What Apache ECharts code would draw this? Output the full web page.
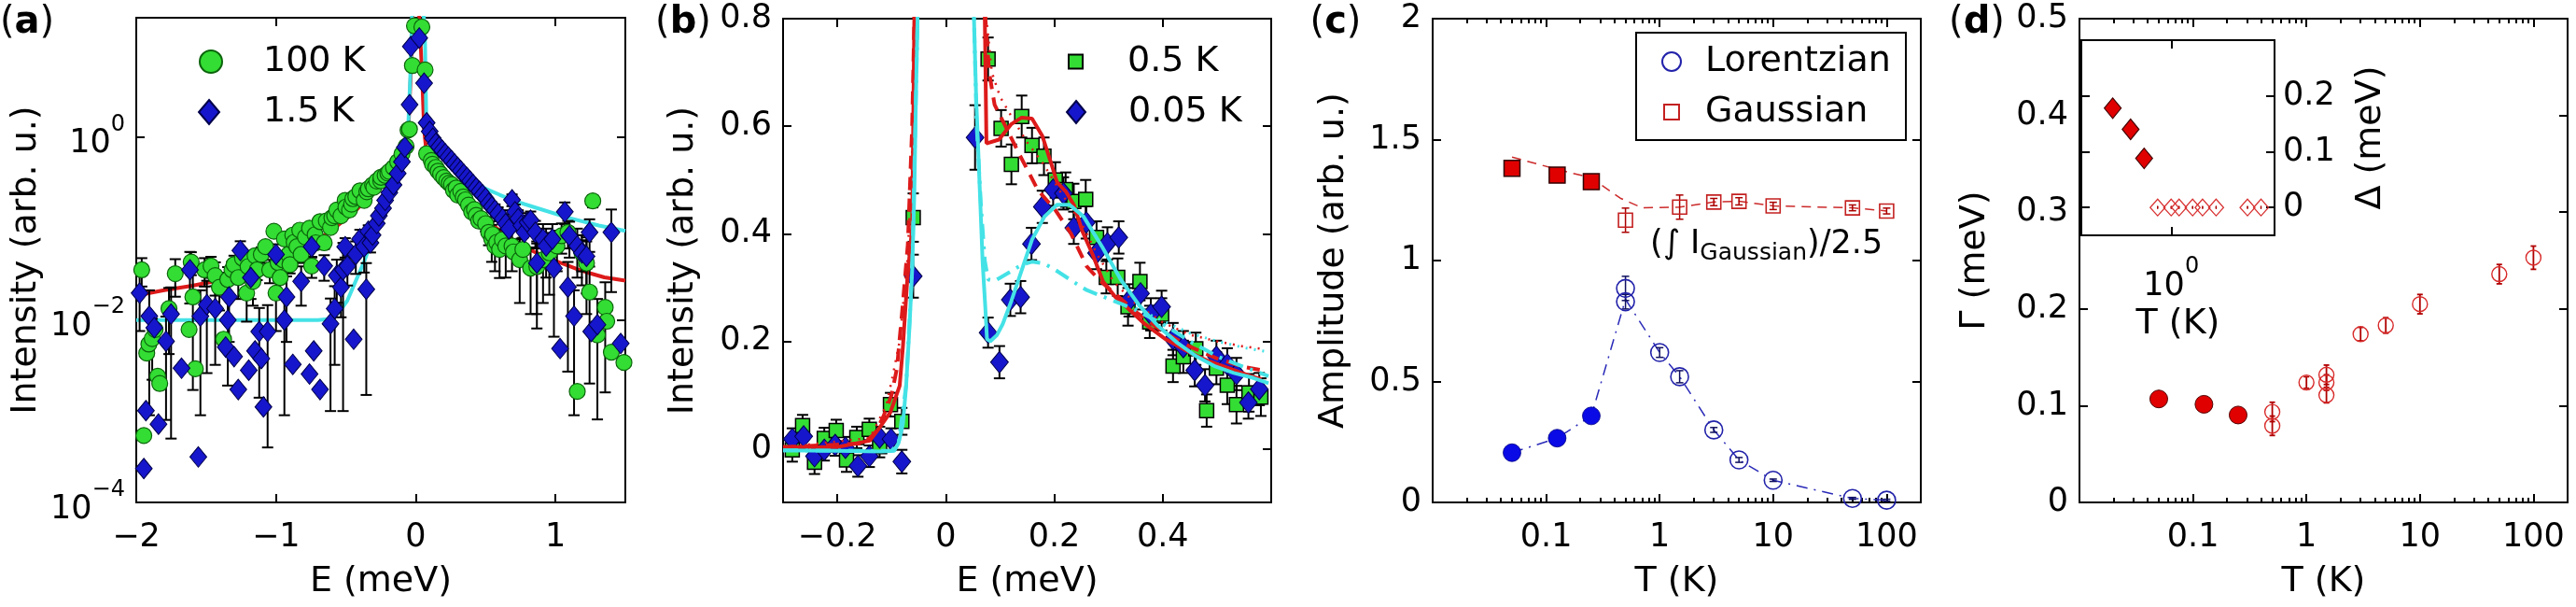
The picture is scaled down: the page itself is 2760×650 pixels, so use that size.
<!DOCTYPE html>
<html><head><meta charset="utf-8">
<script src="https://cdn.jsdelivr.net/npm/echarts@6/dist/echarts.min.js"></script>
<style>html,body{margin:0;padding:0;background:#fff}#c{width:2760px;height:650px}</style>
</head><body><div id="c"></div>
<script>
// ================= DATA =================
// ---- Panel (a): intensity (log) vs E ----
const a_xTicks = [-2, -1, 0, 1];
const a_yTicks = [1e-4, 1e-2, 1];
const a100_E = [-1.961,-1.946,-1.925,-1.910,-1.886,-1.865,-1.847,-1.832,-1.766,-1.721,-1.622,-1.607,-1.595,-1.577,-1.511,-1.465,-1.435,-1.405,-1.375,-1.345,-1.315,-1.300,-1.270,-1.240,-1.210,-1.200,-1.165,-1.150,-1.135,-1.105,-1.075,-1.045,-1.015,-1.000,-0.985,-0.970,-0.950,-0.940,-0.910,-0.900,-0.880,-0.870,-0.850,-0.830,-0.820,-0.790,-0.760,-0.745,-0.720,-0.715,-0.685,-0.655,-0.640,-0.610,-0.600,-0.580,-0.565,-0.535,-0.505,-0.500,-0.474,-0.459,-0.450,-0.429,-0.399,-0.369,-0.350,-0.339,-0.309,-0.300,-0.279,-0.250,-0.249,-0.219,-0.200,-0.189,-0.159,-0.129,-0.099,-0.069,-0.055,-0.045,-0.024,-0.009,
 0.044,0.067,0.078,0.111,0.120,0.144,0.160,0.178,0.200,0.222,0.240,0.256,0.270,0.289,0.300,0.322,0.340,0.356,0.378,0.400,0.420,0.433,0.450,0.467,0.500,0.522,0.544,0.550,0.567,0.580,0.600,0.620,0.644,0.689,0.700,0.744,0.767,0.822,0.867,0.911,0.956,1.011,1.044,1.089,1.156,1.189,1.222,1.244,1.267,1.300,1.356,1.367,1.400,1.490];
const a100_I = [0.035,0.00054,0.0043,0.0054,0.0062,0.0078,0.0024,0.0020,0.0132,0.0318,0.0078,0.0426,0.0177,0.0029,0.035,0.0386,0.0303,0.0226,0.0061,0.0275,0.035,0.040,0.0288,0.0469,0.0195,0.038,0.0262,0.050,0.035,0.0516,0.0627,0.035,0.0925,0.0195,0.042,0.0288,0.045,0.0762,0.0516,0.040,0.084,0.070,0.0627,0.095,0.0516,0.080,0.100,0.0386,0.085,0.0692,0.118,0.0692,0.120,0.1018,0.130,0.1365,0.1577,0.1365,0.2014,0.170,0.158,0.1828,0.210,0.2218,0.2564,0.2014,0.250,0.2692,0.2972,0.280,0.3273,0.330,0.3606,0.3784,0.400,0.4168,0.4592,0.532,0.645,0.785,1.18,1.21,6.0,16.3,
 15.8,5.38,0.653,0.549,0.50,0.462,0.42,0.389,0.357,0.327,0.31,0.300,0.26,0.275,0.23,0.253,0.22,0.204,0.179,0.151,0.16,0.138,0.12,0.127,0.112,0.090,0.0758,0.085,0.0638,0.070,0.0585,0.075,0.0638,0.0638,0.055,0.0452,0.0585,0.0365,0.038,0.0452,0.0537,0.0638,0.0826,0.090,0.00164,0.0537,0.0415,0.020,0.1985,0.0068,0.0136,0.0096,0.0044,0.0034];
const a100_dI = [0.012,0,0,0,0.004,0,0,0,0.009,0.014,0,0.012,0.016,0,0.012,0.010,0.012,0.010,0,0.010,0.008,0.010,0.012,0.010,0.010,0.008,0.012,0,0.008,0.010,0,0.010,0,0.012,0,0.008,0,0,0,0.008,0,0,0,0,0.010,0,0,0.010,0,0,0,0.010,0,0,0,0,0,0,0,0,0,0,0,0,0,0,0,0,0,0,0,0,0,0,0,0,0,0,0,0,0,0,0,0,
 0,0,0,0,0,0,0,0,0,0,0,0,0,0,0,0,0,0,0,0,0,0,0,0,0.02,0.025,0.033,0,0.03,0,0.03,0,0.035,0.03,0,0.03,0.02,0.025,0.03,0.03,0.035,0.03,0.03,0.03,0,0.02,0.03,0.018,0.03,0,0.012,0,0,0];
const a15_E = [-1.976,-1.946,-1.931,-1.907,-1.871,-1.841,-1.787,-1.751,-1.676,-1.616,-1.556,-1.541,-1.495,-1.435,-1.360,-1.345,-1.336,-1.300,-1.270,-1.255,-1.195,-1.180,-1.150,-1.120,-1.105,-1.090,-1.060,-1.000,-0.940,-0.925,-0.880,-0.820,-0.760,-0.745,-0.730,-0.685,-0.655,-0.610,-0.580,-0.565,-0.535,-0.520,-0.505,-0.489,-0.444,-0.429,-0.399,-0.369,-0.354,-0.339,-0.324,-0.309,-0.279,-0.264,-0.234,-0.219,-0.189,-0.159,-0.129,-0.099,-0.078,-0.044,-0.035,
 0.025,0.060,0.078,0.100,0.122,0.144,0.167,0.189,0.211,0.233,0.256,0.278,0.300,0.322,0.344,0.367,0.389,0.411,0.433,0.456,0.478,0.500,0.522,0.544,0.567,0.589,0.622,0.644,0.667,0.689,0.711,0.733,0.756,0.778,0.800,0.822,0.856,0.867,0.911,0.933,0.978,0.989,1.033,1.067,1.089,1.100,1.133,1.156,1.189,1.222,1.244,1.256,1.300,1.400,1.467];
const a15_I = [0.0195,0.000235,0.00101,0.0109,0.00815,0.00072,0.0058,0.0115,0.00294,0.035,0.000315,0.0109,0.0146,0.0132,0.00501,0.0099,0.0177,0.00394,0.00172,0.0569,0.0028,0.0288,0.00455,0.0074,0.00375,0.00111,0.0074,0.0516,0.0099,0.0177,0.00324,0.0262,0.00254,0.0627,0.00455,0.00172,0.0386,0.0090,0.0132,0.0303,0.0226,0.035,0.0627,0.0386,0.0061,0.0516,0.0762,0.0627,0.0215,0.0925,0.0692,0.084,0.1125,0.1365,0.1656,0.2014,0.2445,0.2972,0.397,0.532,0.767,2.24,9.7,
 12.0,3.85,1.42,1.14,0.962,0.845,0.775,0.711,0.653,0.599,0.549,0.504,0.462,0.424,0.389,0.357,0.327,0.300,0.275,0.253,0.232,0.213,0.187,0.172,0.157,0.144,0.127,0.112,0.098,0.204,0.151,0.127,0.107,0.090,0.116,0.122,0.090,0.0415,0.0758,0.0638,0.0758,0.0365,0.00482,0.151,0.0227,0.0826,0.0109,0.0638,0.0537,0.0493,0.090,0.00741,0.00881,0.090,0.00548];
const a15_dI = [0.012,0,0,0.01,0,0,0.005,0.011,0,0.02,0,0.01,0.012,0.01,0,0.008,0.012,0,0,0.015,0,0.012,0,0.006,0,0,0.007,0.015,0.009,0.012,0,0.012,0,0.015,0,0,0.012,0.008,0.01,0.015,0.012,0.034,0.015,0.015,0,0.02,0.02,0.03,0.02,0.015,0.015,0,0,0,0,0,0,0,0,0,0,0,0,
 0,0,0,0,0,0,0,0,0,0,0,0,0,0,0,0,0,0,0,0,0,0.02,0.02,0.02,0.025,0.025,0.03,0.03,0.03,0.03,0.03,0.03,0.03,0.03,0.03,0.03,0.03,0.03,0.035,0.035,0.035,0.03,0,0.04,0.02,0.035,0.01,0.035,0.03,0.03,0.035,0,0.008,0.07,0];
const a100Fit_E = [-2.0,-1.8,-1.6,-1.4,-1.2,-1.0,-0.8,-0.6,-0.45,-0.3,-0.2,-0.12,-0.07,-0.05,-0.035,-0.02,0.02,0.045,0.06,0.08,0.15,0.25,0.35,0.45,0.55,0.65,0.75,0.85,0.95,1.05,1.15,1.25,1.35,1.5];
const a100Fit_I = [0.0183,0.021,0.0235,0.027,0.0325,0.042,0.058,0.095,0.145,0.25,0.37,0.55,0.9,1.5,5,30,30,5,1.2,0.6,0.42,0.29,0.2,0.145,0.108,0.083,0.066,0.055,0.047,0.041,0.036,0.032,0.029,0.0267];
const a15Fit_E = [-2.0,-1.5,-1.0,-0.7,-0.61,-0.55,-0.49,-0.43,-0.37,-0.31,-0.25,-0.19,-0.13,-0.084,-0.054,-0.039,-0.025,0.0,0.055,0.066,0.075,0.096,0.15,0.2,0.25,0.3,0.4,0.5,0.6,0.7,0.867,1.09,1.31,1.5];
const a15Fit_I = [0.0099,0.0099,0.0099,0.0099,0.0102,0.012,0.0161,0.0263,0.0426,0.0762,0.124,0.201,0.343,0.645,1.27,4.5,25,30,25,11.9,1.71,1.27,0.83,0.68,0.56,0.46,0.34,0.27,0.232,0.2,0.166,0.13,0.107,0.0935];

// ---- Panel (b): intensity (linear) vs E ----
const b_xTicks = [-0.2, 0, 0.2, 0.4];
const b_yTicks = [0, 0.2, 0.4, 0.6, 0.8];
const b05_E = [-0.283,-0.264,-0.242,-0.224,-0.202,-0.183,-0.164,-0.141,-0.122,-0.102,-0.081,-0.060,0.078,0.102,0.121,0.140,0.159,0.181,0.202,0.221,0.236,0.258,0.278,0.296,0.317,0.336,0.358,0.376,0.398,0.419,0.438,0.461,0.481,0.499,0.519,0.536,0.559,0.581];
const b05_I = [-0.002,0.043,-0.025,0.019,0.034,-0.021,0.021,0.036,0.004,0.082,0.051,0.430,0.725,0.596,0.529,0.618,0.564,0.544,0.500,0.482,0.460,0.464,0.393,0.319,0.319,0.264,0.311,0.236,0.250,0.154,0.171,0.186,0.071,0.150,0.118,0.082,0.104,0.096];
const b05_dI = [0.022,0.02,0.022,0.02,0.02,0.022,0.02,0.02,0.02,0.022,0.025,0.045,0.04,0.034,0.037,0.039,0.033,0.035,0.033,0.032,0.033,0.036,0.03,0.03,0.035,0.035,0.035,0.03,0.03,0.03,0.03,0.03,0.03,0.03,0.035,0.035,0.035,0.035];
const b005_E = [-0.283,-0.262,-0.242,-0.224,-0.204,-0.185,-0.162,-0.141,-0.122,-0.101,-0.081,-0.060,0.054,0.078,0.099,0.119,0.138,0.158,0.178,0.198,0.217,0.236,0.259,0.278,0.298,0.319,0.338,0.359,0.378,0.398,0.419,0.438,0.459,0.478,0.499,0.519,0.536,0.558,0.578];
const b005_I = [0.018,0.023,-0.014,-0.002,0.007,0.002,-0.032,-0.014,0.021,0.018,-0.024,0.321,0.579,0.216,0.161,0.277,0.282,0.381,0.450,0.482,0.475,0.411,0.421,0.364,0.382,0.393,0.276,0.289,0.250,0.264,0.204,0.189,0.146,0.118,0.171,0.157,0.139,0.086,0.111];
const b005_dI = [0.02,0.022,0.02,0.02,0.02,0.02,0.02,0.02,0.02,0.02,0.022,0.04,0.06,0.028,0.03,0.03,0.03,0.03,0.03,0.03,0.03,0.03,0.03,0.03,0.03,0.03,0.03,0.03,0.03,0.03,0.03,0.03,0.03,0.03,0.03,0.03,0.03,0.03,0.03];
const b05Fit_E = [-0.3,-0.2,-0.14,-0.125,-0.102,-0.085,-0.079,-0.071,-0.062,-0.058,-0.05,0,0.06,0.072,0.075,0.098,0.121,0.14,0.159,0.178,0.194,0.205,0.221,0.236,0.252,0.271,0.29,0.313,0.336,0.367,0.405,0.444,0.482,0.521,0.559,0.582];
const b05Fit_I = [0.003,0.003,0.015,0.035,0.068,0.117,0.19,0.314,0.412,0.8,1.6,6,1.6,0.8,0.568,0.575,0.604,0.616,0.614,0.582,0.532,0.496,0.479,0.454,0.404,0.361,0.311,0.282,0.261,0.232,0.204,0.182,0.164,0.15,0.136,0.129];
const b05Dash_E = [-0.3,-0.15,-0.13,-0.115,-0.1,-0.09,-0.08,-0.07,-0.062,-0.058,0,0.073,0.08,0.09,0.11,0.135,0.17,0.202,0.231,0.26,0.283,0.31,0.35,0.4,0.45,0.5,0.55,0.59];
const b05Dash_I = [0.003,0.01,0.03,0.06,0.1,0.15,0.26,0.38,0.6,0.8,6,0.8,0.7,0.64,0.6,0.549,0.481,0.444,0.4,0.339,0.314,0.29,0.255,0.218,0.19,0.168,0.152,0.145];
const b05Dot_E = [-0.3,-0.14,-0.11,-0.1,-0.085,-0.07,-0.06,-0.058,0,0.075,0.085,0.1,0.12,0.15,0.18,0.21,0.25,0.28,0.31,0.35,0.4,0.45,0.5,0.55,0.59];
const b05Dot_I = [0.003,0.02,0.08,0.125,0.2,0.36,0.6,0.8,6,0.8,0.7,0.655,0.62,0.57,0.53,0.48,0.42,0.36,0.31,0.27,0.235,0.212,0.2,0.19,0.185];
const b005Fit_E = [-0.3,-0.2,-0.12,-0.095,-0.087,-0.079,-0.073,-0.067,-0.062,-0.058,-0.055,-0.052,-0.045,0,0.045,0.052,0.056,0.063,0.068,0.073,0.076,0.082,0.094,0.105,0.121,0.14,0.159,0.182,0.205,0.228,0.254,0.288,0.323,0.358,0.392,0.427,0.462,0.497,0.531,0.566,0.595];
const b005Fit_I = [-0.003,-0.004,-0.005,-0.004,0.011,0.046,0.118,0.225,0.332,0.475,0.654,0.8,1.6,6,1.6,0.8,0.654,0.475,0.346,0.261,0.204,0.2,0.211,0.232,0.275,0.332,0.389,0.432,0.454,0.454,0.432,0.376,0.314,0.265,0.228,0.197,0.172,0.153,0.141,0.132,0.122];
const b005Dash_E = [-0.3,-0.1,-0.087,-0.073,-0.062,-0.052,0,0.052,0.057,0.065,0.072,0.078,0.09,0.1,0.12,0.14,0.16,0.18,0.2,0.23,0.26,0.29,0.32,0.35,0.4,0.45,0.5,0.55,0.595];
const b005Dash_I = [-0.003,-0.004,0.011,0.118,0.332,0.8,6,0.8,0.6,0.45,0.35,0.315,0.312,0.318,0.33,0.342,0.348,0.345,0.334,0.314,0.295,0.283,0.271,0.258,0.232,0.2,0.172,0.152,0.135];
const b005Dot_E = [0.35,0.4,0.45,0.5,0.55,0.595];
const b005Dot_I = [0.262,0.238,0.215,0.2,0.188,0.18];

// ---- Panel (c): amplitudes vs T ----
const cd_xTickVals = [0.1, 1, 10, 100];
const cd_xTickLabels = ['0.1', '1', '10', '100'];
const c_yTicks = [0, 0.5, 1, 1.5, 2];
const lorFill_T = [0.05, 0.125, 0.25];
const lorFill_A = [0.206, 0.266, 0.358];
const lorOpen_T = [0.5, 0.5, 1, 1.5, 3, 5, 10, 50, 100];
const lorOpen_A = [0.885, 0.83, 0.62, 0.52, 0.30, 0.176, 0.092, 0.017, 0.0095];
const lorOpen_dA = [0.05, 0.03, 0.02, 0.025, 0.01, 0.01, 0.005, 0.004, 0.004];
const gauFill_T = [0.05, 0.125, 0.25];
const gauFill_A = [1.381, 1.353, 1.326];
const gauFill_dA = [0.02, 0.02, 0.025];
const gauOpen_T = [0.5, 1.5, 3, 5, 10, 50, 100];
const gauOpen_A = [1.167, 1.221, 1.242, 1.245, 1.226, 1.218, 1.205];
const gauOpen_dA = [0.05, 0.05, 0.015, 0.015, 0.015, 0.012, 0.012];
const lorGuide_T = [0.05, 0.125, 0.25, 0.5, 1, 1.5, 3, 5, 10, 50, 100];
const lorGuide_A = [0.206, 0.266, 0.358, 0.84, 0.62, 0.52, 0.30, 0.176, 0.092, 0.017, 0.0095];
const gauGuide_T = [0.05, 0.125, 0.25, 0.45, 0.7, 1.5, 3, 5, 10, 50, 100];
const gauGuide_A = [1.428, 1.377, 1.342, 1.258, 1.218, 1.221, 1.242, 1.245, 1.226, 1.218, 1.205];

// ---- Panel (d): width Gamma vs T, inset gap Delta vs T ----
const d_yTicks = [0, 0.1, 0.2, 0.3, 0.4, 0.5];
const gamFill_T = [0.05, 0.125, 0.25];
const gamFill_G = [0.107, 0.1015, 0.0904];
const gamOpen_T = [0.5, 0.5, 1, 1.5, 1.5, 1.5, 3, 5, 10, 50, 100];
const gamOpen_G = [0.0936, 0.0793, 0.124, 0.132, 0.124, 0.111, 0.174, 0.183, 0.205, 0.236, 0.253];
const gamOpen_dG = [0.01, 0.01, 0.006, 0.01, 0.008, 0.008, 0.007, 0.008, 0.01, 0.01, 0.012];
const ins_yTicks = [0, 0.1, 0.2];
const delFill_T = [0.05, 0.125, 0.25];
const delFill_D = [0.178, 0.14, 0.088];
const delOpen_T = [0.5, 1, 1.5, 3, 5, 10, 50, 100];
const delOpen_D = [0, 0, 0, 0, 0, 0, 0, 0];
const delOpen_dD = [0.002, 0.002, 0.002, 0.002, 0.002, 0.002, 0.002, 0.002];

// ================= CHART =================
const FONT = 'DejaVu Sans';
const lg = v => Math.log10(v);
const id = v => v;
const minus = s => String(s).replace('-', '\u2212');
const pair = (xs, ys, fx, fy) => xs.map((x, i) => [fx(x), fy(ys[i])]);

function errData(xs, ys, es, fx, fy, ylog) {
  const out = [];
  xs.forEach((x, i) => {
    const e = es[i]; if (!e) return;
    const y = ys[i], lo = y - e, hi = y + e;
    const hasLo = ylog ? lo > 0 : true;
    out.push([fx(x), hasLo ? fy(lo) : fy(y), fy(hi), hasLo ? 1 : 0]);
  });
  return out;
}
function errSeries(xi, yi, data, color, width, cap, z) {
  return {
    type: 'custom', xAxisIndex: xi, yAxisIndex: yi, data: data, z: z || 2, silent: true, clip: true,
    encode: { x: 0, y: [1, 2] },
    renderItem: function (params, api) {
      const x = api.value(0), lo = api.value(1), hi = api.value(2), hasLo = api.value(3);
      const a = api.coord([x, lo]), b = api.coord([x, hi]);
      const st = { stroke: color, lineWidth: width };
      const ch = [
        { type: 'line', shape: { x1: a[0], y1: a[1], x2: b[0], y2: b[1] }, style: st },
        { type: 'line', shape: { x1: b[0] - cap, y1: b[1], x2: b[0] + cap, y2: b[1] }, style: st }
      ];
      if (hasLo) ch.push({ type: 'line', shape: { x1: a[0] - cap, y1: a[1], x2: a[0] + cap, y2: a[1] }, style: st });
      return { type: 'group', children: ch };
    }
  };
}
function lineSeries(xi, yi, data, color, width, type, z) {
  return { type: 'line', xAxisIndex: xi, yAxisIndex: yi, data: data, symbol: 'none', clip: true, silent: true,
    z: z || 3, lineStyle: { color: color, width: width, type: type || 'solid', cap: 'butt' } };
}
function scat(name, xi, yi, data, symbol, size, fill, border, bw, z) {
  return { name: name, type: 'scatter', xAxisIndex: xi, yAxisIndex: yi, data: data, symbol: symbol, symbolSize: size,
    clip: false, silent: true, z: z || 2,
    itemStyle: { color: fill, borderColor: border, borderWidth: bw, opacity: 1 } };
}

const TXT = { fontSize: 35, fontFamily: FONT, color: '#000' };
const RICH = {
  b: { fontSize: 35, fontFamily: FONT, color: '#000', lineHeight: 50, verticalAlign: 'bottom' },
  s: { fontSize: 24, fontFamily: FONT, color: '#000', lineHeight: 14, verticalAlign: 'top' }
};
function axis(o) {
  const ax = {
    type: 'value', gridIndex: o.grid, position: o.pos, min: o.min, max: o.max,
    axisLine: { show: false, onZero: false }, splitLine: { show: false },
    axisTick: { show: true, inside: true, length: o.tickLen || 9, customValues: o.ticks, lineStyle: { color: '#000', width: 2 } },
    axisLabel: { show: false },
    z: o.z || 0
  };
  if (o.labels) {
    ax.axisLabel = Object.assign({ show: true, customValues: o.labels, formatter: o.fmt, margin: o.margin, lineHeight: 40 }, TXT);
    if (o.rich) ax.axisLabel.rich = o.rich;
  }
  if (o.name) {
    ax.name = o.name; ax.nameLocation = 'middle'; ax.nameGap = o.nameGap;
    if (o.nameRotate !== undefined) ax.nameRotate = o.nameRotate;
    ax.nameTextStyle = { fontSize: 38, fontFamily: FONT, color: '#000', lineHeight: 44 };
  }
  return ax;
}

const cdMajor = cd_xTickVals.map(lg);
const cdMinor = [];
for (let e = -2; e <= 2; e++) for (let k = 2; k <= 9; k++) { const v = k * Math.pow(10, e); if (v < 200) cdMinor.push(lg(v)); }
const cdFmt = v => { let best = 0; cdMajor.forEach((m, i) => { if (Math.abs(m - v) < Math.abs(cdMajor[best] - v)) best = i; }); return cd_xTickLabels[best]; };
const logFmt = v => '{b|10}{s|' + minus(Math.round(v)) + '}';
const decFmt = v => minus(+(+v).toFixed(2));
const LXMIN = -2, LXMAX = lg(200);

const xAxes = [
  axis({ grid: 0, pos: 'bottom', min: -2, max: 1.5, ticks: a_xTicks, labels: a_xTicks, fmt: decFmt, margin: 18, name: 'E (meV)', nameGap: 59 }),
  axis({ grid: 0, pos: 'top', min: -2, max: 1.5, ticks: a_xTicks }),
  axis({ grid: 1, pos: 'bottom', min: -0.3, max: 0.6, ticks: b_xTicks, labels: b_xTicks, fmt: decFmt, margin: 18, name: 'E (meV)', nameGap: 59 }),
  axis({ grid: 1, pos: 'top', min: -0.3, max: 0.6, ticks: b_xTicks }),
  axis({ grid: 2, pos: 'bottom', min: LXMIN, max: LXMAX, ticks: cdMajor, labels: cdMajor, fmt: cdFmt, margin: 18, name: 'T (K)', nameGap: 59 }),
  axis({ grid: 2, pos: 'top', min: LXMIN, max: LXMAX, ticks: cdMajor }),
  axis({ grid: 2, pos: 'bottom', min: LXMIN, max: LXMAX, ticks: cdMinor, tickLen: 5 }),
  axis({ grid: 2, pos: 'top', min: LXMIN, max: LXMAX, ticks: cdMinor, tickLen: 5 }),
  axis({ grid: 3, pos: 'bottom', min: LXMIN, max: LXMAX, ticks: cdMajor, labels: cdMajor, fmt: cdFmt, margin: 18, name: 'T (K)', nameGap: 59 }),
  axis({ grid: 3, pos: 'top', min: LXMIN, max: LXMAX, ticks: cdMajor }),
  axis({ grid: 3, pos: 'bottom', min: LXMIN, max: LXMAX, ticks: cdMinor, tickLen: 5 }),
  axis({ grid: 3, pos: 'top', min: LXMIN, max: LXMAX, ticks: cdMinor, tickLen: 5 }),
  axis({ grid: 4, pos: 'bottom', min: LXMIN, max: LXMAX, ticks: [0], labels: [0], fmt: v => '{b|10}{s|0}', rich: RICH, margin: 22, name: 'T (K)', nameGap: 70, z: 6 }),
  axis({ grid: 4, pos: 'top', min: LXMIN, max: LXMAX, ticks: [0], z: 6 })
];
const aY = a_yTicks.map(lg);
const yAxes = [
  axis({ grid: 0, pos: 'left', min: -4, max: lg(20), ticks: aY, labels: aY, fmt: logFmt, rich: RICH, margin: 12, name: 'Intensity (arb. u.)', nameGap: 96, nameRotate: 90 }),
  axis({ grid: 0, pos: 'right', min: -4, max: lg(20), ticks: aY }),
  axis({ grid: 1, pos: 'left', min: -0.1, max: 0.8, ticks: b_yTicks, labels: b_yTicks, fmt: decFmt, margin: 12, name: 'Intensity (arb. u.)', nameGap: 85, nameRotate: 90 }),
  axis({ grid: 1, pos: 'right', min: -0.1, max: 0.8, ticks: b_yTicks }),
  axis({ grid: 2, pos: 'left', min: 0, max: 2, ticks: c_yTicks, labels: c_yTicks, fmt: decFmt, margin: 12, name: 'Amplitude (arb. u.)', nameGap: 84, nameRotate: 90 }),
  axis({ grid: 2, pos: 'right', min: 0, max: 2, ticks: c_yTicks }),
  axis({ grid: 3, pos: 'left', min: 0, max: 0.5, ticks: d_yTicks, labels: d_yTicks, fmt: decFmt, margin: 12, name: '\u0393 (meV)', nameGap: 90, nameRotate: 90 }),
  axis({ grid: 3, pos: 'right', min: 0, max: 0.5, ticks: d_yTicks }),
  axis({ grid: 4, pos: 'left', min: -0.05, max: 0.3, ticks: ins_yTicks, z: 6 }),
  axis({ grid: 4, pos: 'right', min: -0.05, max: 0.3, ticks: ins_yTicks, labels: ins_yTicks, fmt: decFmt, margin: 9, name: '\u0394 (meV)', nameGap: 81, nameRotate: 90, z: 6 })
];

const GREEN = '#33dd33', GREEN_B = '#0b640b', BLUE = '#1616cc', BLUE_B = '#00004a';
const RED = '#dd1a1a', CYAN = '#44e2e6';

const series = [
  // (a): fit curves drawn beneath the markers
  lineSeries(0, 0, pair(a100Fit_E, a100Fit_I, id, lg), RED, 4, 'solid', 1),
  lineSeries(0, 0, pair(a15Fit_E, a15Fit_I, id, lg), CYAN, 4, 'solid', 1),
  errSeries(0, 0, errData(a100_E, a100_I, a100_dI, id, lg, true), '#000', 2, 6, 2),
  scat('100 K', 0, 0, pair(a100_E, a100_I, id, lg), 'circle', 17, GREEN, GREEN_B, 1.2, 2),
  errSeries(0, 0, errData(a15_E, a15_I, a15_dI, id, lg, true), '#000', 2, 6, 2),
  scat('1.5 K', 0, 0, pair(a15_E, a15_I, id, lg), 'diamond', [18, 22], BLUE, BLUE_B, 1, 2),
  // (b)
  errSeries(2, 2, errData(b05_E, b05_I, b05_dI, id, id, false), '#000', 2, 6, 2),
  scat('0.5 K', 2, 2, pair(b05_E, b05_I, id, id), 'rect', 15, GREEN, '#000', 1.5, 2),
  errSeries(2, 2, errData(b005_E, b005_I, b005_dI, id, id, false), '#000', 2, 6, 2),
  scat('0.05 K', 2, 2, pair(b005_E, b005_I, id, id), 'diamond', [19, 23], BLUE, BLUE_B, 1, 2),
  lineSeries(2, 2, pair(b05Dot_E, b05Dot_I, id, id), RED, 2.5, [2, 7], 3),
  lineSeries(2, 2, pair(b05Dash_E, b05Dash_I, id, id), RED, 4, [14, 9], 3),
  lineSeries(2, 2, pair(b05Fit_E, b05Fit_I, id, id), RED, 4, 'solid', 3),
  lineSeries(2, 2, pair(b005Dot_E, b005Dot_I, id, id), CYAN, 3, [2, 7], 3),
  lineSeries(2, 2, pair(b005Dash_E, b005Dash_I, id, id), CYAN, 4, [16, 8, 3, 8], 3),
  lineSeries(2, 2, pair(b005Fit_E, b005Fit_I, id, id), CYAN, 4, 'solid', 3),
  // (c)
  lineSeries(4, 4, pair(gauGuide_T, gauGuide_A, lg, id), '#cc2a2a', 1.5, [10, 7], 1),
  lineSeries(4, 4, pair(lorGuide_T, lorGuide_A, lg, id), '#2a2ab8', 1.5, [12, 7, 2, 7], 1),
  errSeries(4, 4, errData(gauFill_T, gauFill_A, gauFill_dA, lg, id, false), '#600', 1.5, 4, 2),
  errSeries(4, 4, errData(gauOpen_T, gauOpen_A, gauOpen_dA, lg, id, false), '#a00', 1.5, 4, 2),
  errSeries(4, 4, errData(lorOpen_T, lorOpen_A, lorOpen_dA, lg, id, false), '#101060', 1.5, 4, 2),
  scat('Gaussian', 4, 4, pair(gauOpen_T, gauOpen_A, lg, id), 'rect', 15, 'rgba(255,255,255,0)', '#c42020', 1.6, 2),
  scat('gauFilled', 4, 4, pair(gauFill_T, gauFill_A, lg, id), 'rect', 17, '#e00000', '#300000', 1.5, 2),
  scat('Lorentzian', 4, 4, pair(lorOpen_T, lorOpen_A, lg, id), 'circle', 19, 'rgba(255,255,255,0)', '#2222aa', 1.6, 2),
  scat('lorFilled', 4, 4, pair(lorFill_T, lorFill_A, lg, id), 'circle', 19, '#0a0ae6', '#000080', 0.8, 2),
  // (d)
  errSeries(8, 6, errData(gamOpen_T, gamOpen_G, gamOpen_dG, lg, id, false), '#b00000', 1.8, 3, 2),
  scat('gamOpen', 8, 6, pair(gamOpen_T, gamOpen_G, lg, id), 'circle', 16, 'rgba(255,255,255,0)', '#d82a2a', 1.4, 2),
  scat('gamFilled', 8, 6, pair(gamFill_T, gamFill_G, lg, id), 'circle', 19, '#e00000', '#500000', 1, 2),
  // inset
  errSeries(12, 8, errData(delOpen_T, delOpen_D, delOpen_dD, lg, id, false), '#a00', 1.5, 0.5, 7),
  scat('delOpen', 12, 8, pair(delOpen_T, delOpen_D, lg, id), 'diamond', [16, 18], 'rgba(255,255,255,0)', '#d83030', 1.3, 7),
  scat('delFilled', 12, 8, pair(delFill_T, delFill_D, lg, id), 'diamond', [18, 22], '#e00000', '#400000', 1.2, 7)
];

function leg(name, left, top, w, h, pad) {
  return { data: [name], left: left, top: top, orient: 'vertical', itemWidth: w, itemHeight: h, padding: 5,
    selectedMode: false, z: 6,
    textStyle: { fontSize: 38, fontFamily: FONT, color: '#000', lineHeight: 40, padding: [0, 0, 0, pad] } };
}

const option = {
  animation: false,
  backgroundColor: '#fff',
  textStyle: { fontFamily: FONT },
  grid: [
    { left: 146, top: 19, width: 524, height: 522, show: true, borderColor: '#000', borderWidth: 2, backgroundColor: 'rgba(0,0,0,0)' },
    { left: 839, top: 19, width: 523, height: 522, show: true, borderColor: '#000', borderWidth: 2, backgroundColor: 'rgba(0,0,0,0)' },
    { left: 1535, top: 19, width: 523, height: 522, show: true, borderColor: '#000', borderWidth: 2, backgroundColor: 'rgba(0,0,0,0)' },
    { left: 2228, top: 19, width: 523, height: 522, show: true, borderColor: '#000', borderWidth: 2, backgroundColor: 'rgba(0,0,0,0)' },
    { left: 2230, top: 43, width: 207, height: 209, show: true, borderColor: '#000', borderWidth: 2, backgroundColor: '#fff', z: 5 }
  ],
  xAxis: xAxes,
  yAxis: yAxes,
  legend: [
    leg('100 K', 208, 41, 24, 24, 39),
    leg('1.5 K', 207, 95, 22, 26, 42),
    leg('0.5 K', 1139, 41, 15, 15, 43),
    leg('0.05 K', 1137, 95, 20, 24, 41),
    leg('Lorentzian', 1775, 41, 20, 20, 21),
    leg('Gaussian', 1777, 95, 16, 16, 23)
  ],
  graphic: [
    { type: 'rect', z: 3, shape: { x: 1753, y: 35, width: 289, height: 115 }, style: { fill: '#fff', stroke: '#000', lineWidth: 2 } },
    { type: 'text', z: 10, x: 29, y: 25, style: { text: '{p|(}{b|a}{p|)}', rich: { p: { fontSize: 40, fontFamily: FONT, fill: '#000' }, b: { fontSize: 40, fontFamily: FONT, fontWeight: 'bold', fill: '#000' } }, align: 'center', verticalAlign: 'middle', textAlign: 'center', textVerticalAlign: 'middle' } },
    { type: 'text', z: 10, x: 732, y: 25, style: { text: '{p|(}{b|b}{p|)}', rich: { p: { fontSize: 40, fontFamily: FONT, fill: '#000' }, b: { fontSize: 40, fontFamily: FONT, fontWeight: 'bold', fill: '#000' } }, align: 'center', verticalAlign: 'middle', textAlign: 'center', textVerticalAlign: 'middle' } },
    { type: 'text', z: 10, x: 1431, y: 25, style: { text: '{p|(}{b|c}{p|)}', rich: { p: { fontSize: 40, fontFamily: FONT, fill: '#000' }, b: { fontSize: 40, fontFamily: FONT, fontWeight: 'bold', fill: '#000' } }, align: 'center', verticalAlign: 'middle', textAlign: 'center', textVerticalAlign: 'middle' } },
    { type: 'text', z: 10, x: 2118, y: 25, style: { text: '{p|(}{b|d}{p|)}', rich: { p: { fontSize: 40, fontFamily: FONT, fill: '#000' }, b: { fontSize: 40, fontFamily: FONT, fontWeight: 'bold', fill: '#000' } }, align: 'center', verticalAlign: 'middle', textAlign: 'center', textVerticalAlign: 'middle' } },
    { type: 'text', z: 10, x: 1768, y: 244, style: { text: '{m|(\u222B I}{s|Gaussian}{m|)/2.5}', rich: { m: { fontSize: 35, fontFamily: FONT, fill: '#000', lineHeight: 40, verticalAlign: 'top' }, s: { fontSize: 25, fontFamily: FONT, fill: '#000', lineHeight: 24, verticalAlign: 'bottom' } }, align: 'left', verticalAlign: 'top', textAlign: 'left', textVerticalAlign: 'top' } }
  ],
  series: series
};

const chart = echarts.init(document.getElementById('c'), null, { renderer: 'canvas', width: 2760, height: 650 });
chart.setOption(option);
</script></body></html>
